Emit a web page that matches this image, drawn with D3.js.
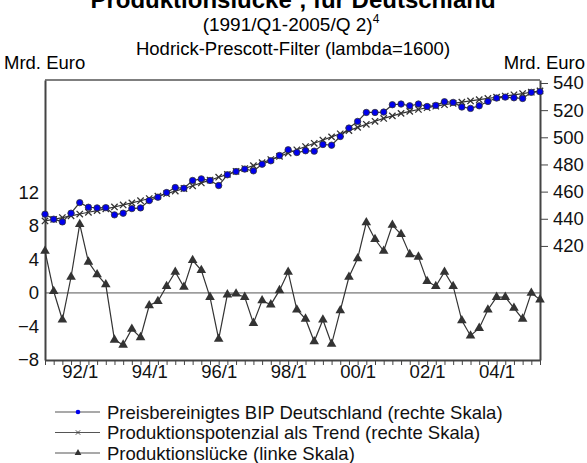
<!DOCTYPE html>
<html>
<head>
<meta charset="utf-8">
<script src="https://cdn.jsdelivr.net/npm/d3@7"></script>
<style>
  body { margin: 0; background: #fff; }
  svg { font-family: "Liberation Sans", Arial, sans-serif; }
  .axis path, .axis line { stroke: #444; }
  .axis text { font-size: 18.5px; fill: #111; font-family: "Liberation Sans", Arial, sans-serif; }
</style>
</head>
<body>
<script>
// quarters 1991/Q1 .. 2005/Q2
var quarters = [];
for (var yr = 1991; yr <= 2005; yr++) {
  for (var q = 1; q <= 4; q++) {
    if (yr == 2005 && q > 2) break;
    quarters.push(String(yr).slice(2) + "/" + q);
  }
}

// Preisbereinigtes BIP (rechte Skala, Mrd. Euro)
var bip = [443.4, 439.7, 437.7, 444.1, 451.9, 448.5, 448.0, 448.2, 442.9, 444.1,
           447.5, 448.0, 453.4, 455.9, 459.3, 463.0, 462.5, 468.2, 469.4, 468.2,
           464.5, 472.4, 474.8, 476.6, 475.3, 480.2, 482.7, 486.6, 490.8, 488.8,
           490.1, 489.8, 494.7, 494.2, 500.6, 506.8, 511.7, 518.3, 518.3, 518.6,
           524.0, 524.5, 523.2, 524.5, 522.7, 523.5, 526.2, 525.7, 522.3, 521.3,
           523.2, 526.4, 528.9, 529.6, 529.1, 528.6, 533.1, 533.6];

// Produktionspotenzial als Trend (rechte Skala)
var trend = [438.4, 439.6, 440.9, 442.2, 443.5, 444.8, 446.0, 447.3, 448.7, 450.2,
             451.7, 453.3, 454.9, 456.7, 458.5, 460.4, 462.3, 464.3, 466.4, 468.5,
             470.6, 472.7, 474.9, 477.0, 479.1, 481.3, 483.6, 486.0, 488.4, 490.8,
             493.2, 495.6, 498.0, 500.3, 502.6, 504.9, 507.3, 509.6, 511.8, 513.9,
             515.8, 517.6, 519.1, 520.5, 521.8, 522.9, 524.0, 525.0, 525.9, 526.8,
             527.7, 528.6, 529.5, 530.4, 531.3, 532.2, 533.2, 534.2];

// Produktionslücke (linke Skala)
var gap = [5.0, 0.2, -3.2, 1.9, 8.2, 3.7, 2.2, 1.0, -5.6, -6.2,
           -4.3, -5.3, -1.5, -1.0, 0.8, 2.5, 0.7, 3.9, 2.7, -0.5,
           -5.5, -0.2, -0.1, -0.5, -3.6, -0.9, -1.4, 0.3, 2.5, -2.0,
           -3.1, -5.8, -3.2, -6.1, -2.1, 1.9, 4.1, 8.4, 6.4, 5.0,
           8.1, 7.0, 4.6, 4.3, 1.4, 0.8, 2.5, 0.8, -3.3, -5.1,
           -4.2, -2.0, -0.5, -0.5, -1.8, -3.1, 0.0, -0.8];

var xTickLabels = ["92/1", "94/1", "96/1", "98/1", "00/1", "02/1", "04/1"];
var leftTicks = [-8, -4, 0, 4, 8, 12];
var rightTicks = [420, 440, 460, 480, 500, 520, 540];

var seriesNames = ["Preisbereinigtes BIP Deutschland (rechte Skala)",
                   "Produktionspotenzial als Trend (rechte Skala)",
                   "Produktionslücke (linke Skala)"];

var W = 587, H = 463;
var plot = {left: 45, right: 540, top: 80, bottom: 360};

var svg = d3.select("body").append("svg")
    .attr("width", W)
    .attr("height", H);

// scales
var x = d3.scaleLinear().domain([0, quarters.length - 1]).range([plot.left, plot.right]);
var yL = d3.scaleLinear().domain([-8, 25.4]).range([plot.bottom, plot.top]);
var yR = d3.scaleLinear().domain([336, 542.2]).range([plot.bottom, plot.top]);

// titles
var title = svg.append("text")
    .attr("x", 293).attr("y", 8)
    .attr("text-anchor", "middle")
    .style("font-size", "24px").style("font-weight", "bold")
    .text("Produktionslücke");
title.append("tspan").attr("dy", -9).style("font-size", "14px").text("1");
title.append("tspan").attr("dy", 9).text(", für Deutschland");

var sub = svg.append("text")
    .attr("x", 291).attr("y", 31)
    .attr("text-anchor", "middle")
    .style("font-size", "19px")
    .text("(1991/Q1-2005/Q 2)");
sub.append("tspan").attr("dy", -8).style("font-size", "12px").text("4");

svg.append("text")
    .attr("x", 293).attr("y", 55)
    .attr("text-anchor", "middle")
    .style("font-size", "18.5px")
    .text("Hodrick-Prescott-Filter (lambda=1600)");

svg.append("text")
    .attr("x", 4).attr("y", 69)
    .style("font-size", "18.5px")
    .text("Mrd. Euro");
svg.append("text")
    .attr("x", 585).attr("y", 69)
    .attr("text-anchor", "end")
    .style("font-size", "18.5px")
    .text("Mrd. Euro");

// top frame line
svg.append("line")
    .attr("x1", plot.left).attr("x2", plot.right)
    .attr("y1", plot.top).attr("y2", plot.top)
    .attr("stroke", "#555").attr("stroke-width", 1.5);

// zero line
svg.append("line")
    .attr("x1", plot.left).attr("x2", plot.right)
    .attr("y1", yL(0)).attr("y2", yL(0))
    .attr("stroke", "#555").attr("stroke-width", 1);

// axes
var xAxis = svg.append("g")
    .attr("class", "axis")
    .attr("transform", "translate(0," + plot.bottom + ")")
    .call(d3.axisBottom(x)
      .tickValues(d3.range(quarters.length))
      .tickSize(5)
      .tickSizeOuter(0)
      .tickFormat(function(i) { return xTickLabels.indexOf(quarters[i]) >= 0 ? quarters[i] : ""; }));
xAxis.select(".domain").attr("stroke-width", 2);
xAxis.selectAll("text").attr("dy", "0.55em");

var lAxis = svg.append("g")
    .attr("class", "axis")
    .attr("transform", "translate(" + plot.left + ",0)")
    .call(d3.axisLeft(yL).tickValues(leftTicks).tickSize(0).tickSizeOuter(0).tickPadding(6));
lAxis.select(".domain").attr("stroke-width", 2);

var rAxis = svg.append("g")
    .attr("class", "axis")
    .attr("transform", "translate(" + plot.right + ",0)")
    .call(d3.axisRight(yR).tickValues(rightTicks).tickSize(8).tickSizeOuter(0).tickPadding(5));
rAxis.select(".domain").attr("stroke-width", 2);
rAxis.selectAll(".tick line").attr("stroke", "#777");

// lines
var lineR = d3.line().x(function(d, i) { return x(i); }).y(function(d) { return yR(d); });
var lineL = d3.line().x(function(d, i) { return x(i); }).y(function(d) { return yL(d); });

svg.append("path").attr("d", lineR(trend))
    .attr("fill", "none").attr("stroke", "#333").attr("stroke-width", 1.2);
svg.append("path").attr("d", lineR(bip))
    .attr("fill", "none").attr("stroke", "#333").attr("stroke-width", 1.2);
svg.append("path").attr("d", lineL(gap))
    .attr("fill", "none").attr("stroke", "#333").attr("stroke-width", 1.2);

// markers
var cross = d3.symbol().type(d3.symbolX).size(28);
var tri = d3.symbol().type(d3.symbolTriangle).size(40);

svg.append("g").selectAll("path").data(trend).join("path")
    .attr("transform", function(d, i) { return "translate(" + x(i) + "," + yR(d) + ")"; })
    .attr("d", cross).attr("stroke", "#333").attr("stroke-width", 1.3).attr("fill", "none");

svg.append("g").selectAll("circle").data(bip).join("circle")
    .attr("cx", function(d, i) { return x(i); })
    .attr("cy", function(d) { return yR(d); })
    .attr("r", 3.2)
    .attr("fill", "#0000ee").attr("stroke", "#333").attr("stroke-width", 0.8);

svg.append("g").selectAll("path").data(gap).join("path")
    .attr("transform", function(d, i) { return "translate(" + x(i) + "," + yL(d) + ")"; })
    .attr("d", tri).attr("fill", "#333");

// legend
var legend = svg.append("g").attr("transform", "translate(55,412)");
seriesNames.forEach(function(name, k) {
  var g = legend.append("g").attr("transform", "translate(0," + (k * 20.5) + ")");
  g.append("line").attr("x1", 0).attr("x2", 45).attr("y1", 0).attr("y2", 0)
    .attr("stroke", "#555").attr("stroke-width", 1.2);
  if (k == 0) {
    g.append("circle").attr("cx", 23).attr("cy", 0).attr("r", 2.3).attr("fill", "#0000ee");
  } else if (k == 1) {
    g.append("path").attr("transform", "translate(23,0)")
      .attr("d", d3.symbol().type(d3.symbolX).size(14)).attr("stroke", "#444").attr("fill", "none");
  } else {
    g.append("path").attr("transform", "translate(23,0)")
      .attr("d", d3.symbol().type(d3.symbolTriangle).size(20)).attr("fill", "#333");
  }
  g.append("text").attr("x", 52).attr("y", 6.5)
    .style("font-size", "18.5px").style("fill", "#111")
    .text(name);
});
</script>
</body>
</html>
